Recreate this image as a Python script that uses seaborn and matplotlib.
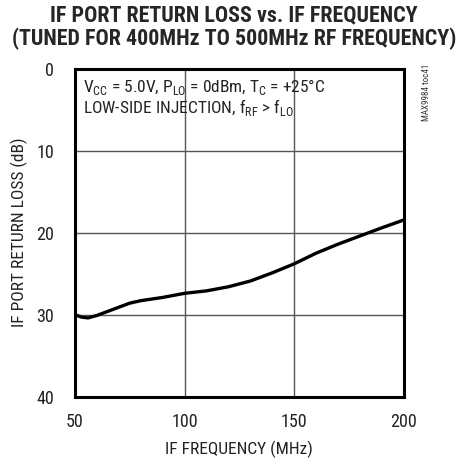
import seaborn as sns
import pandas as pd
import matplotlib
matplotlib.use('Agg')
import matplotlib.pyplot as plt

# valeurs
freq_mhz = [50, 53, 56, 60, 65, 70, 75, 80, 90, 100, 110, 120, 130, 140, 150, 160, 170, 180, 190, 200]
return_loss_db = [30.0, 30.3, 30.4, 30.1, 29.6, 29.1, 28.6, 28.3, 27.9, 27.4, 27.1, 26.6, 25.9, 24.9,
                  23.8, 22.5, 21.4, 20.4, 19.4, 18.45]
x_ticks = [50, 100, 150, 200]
y_ticks = [0, 10, 20, 30, 40]

df = pd.DataFrame({'freq': freq_mhz, 'rl': return_loss_db})

sns.set_style('white')
plt.rcParams['font.family'] = ['Roboto Condensed', 'DejaVu Sans']
plt.rcParams['mathtext.fontset'] = 'custom'
plt.rcParams['mathtext.rm'] = 'Roboto Condensed'

fig = plt.figure(figsize=(4.68, 4.58), dpi=100)
ax = fig.add_axes([0.160, 0.134, 0.703, 0.716])

sns.lineplot(data=df, x='freq', y='rl', ax=ax, color='black', linewidth=2.4)

ax.set_xlim(50, 200)
ax.set_ylim(40, 0)
ax.set_xticks(x_ticks)
ax.set_yticks(y_ticks)
ax.tick_params(axis='both', length=0, labelsize=13, colors='#222222')
ax.tick_params(axis='x', pad=12)
ax.tick_params(axis='y', pad=15)
ax.grid(True, color='#555555', linewidth=1.0)
for s in ax.spines.values():
    s.set_linewidth(2.2)
    s.set_color('black')

ax.set_xlabel('IF FREQUENCY (MHz)', fontsize=12.5, labelpad=7, color='#222222')
ax.set_ylabel('IF PORT RETURN LOSS (dB)', fontsize=12.5, labelpad=6, color='#222222')

fig.text(0.5, 0.99, 'IF PORT RETURN LOSS vs. IF FREQUENCY\n(TUNED FOR 400MHz TO 500MHz RF FREQUENCY)',
         ha='center', va='top', fontsize=15.8, fontweight='heavy', linespacing=1.05,
         family=['Roboto Condensed', 'DejaVu Sans'])

ax.text(0.025, 0.975, r'V$_{\mathregular{CC}}$ = 5.0V, P$_{\mathregular{LO}}$ = 0dBm, T$_{\mathregular{C}}$ = +25°C',
        transform=ax.transAxes, ha='left', va='top', fontsize=12.5, color='#222222')
ax.text(0.025, 0.915, r'LOW-SIDE INJECTION, f$_{\mathregular{RF}}$ > f$_{\mathregular{LO}}$',
        transform=ax.transAxes, ha='left', va='top', fontsize=12.5, color='#222222')

fig.text(0.912, 0.86, 'MAX9984 toc41', rotation=90, ha='center', va='top', fontsize=6.5, color='#333333')

fig.savefig('out.png', dpi=100)
